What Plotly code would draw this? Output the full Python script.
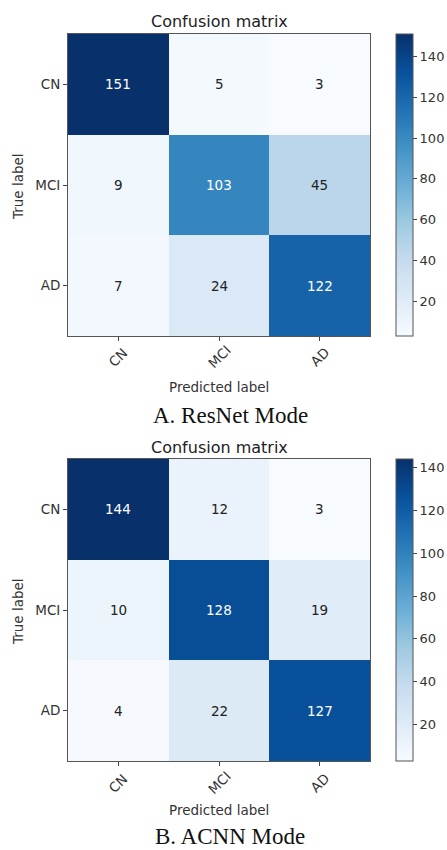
import plotly.graph_objects as go

# ---- data ----
labels = ["CN", "MCI", "AD"]
resnet_cm = [[151, 5, 3],
             [9, 103, 45],
             [7, 24, 122]]
acnn_cm = [[144, 12, 3],
           [10, 128, 19],
           [4, 22, 127]]
titles = ["Confusion matrix", "Confusion matrix"]
captions = ["A. ResNet Mode", "B. ACNN Mode"]

W, H = 447, 850
blues = [[0.0, "rgb(247,251,255)"], [0.125, "rgb(222,235,247)"], [0.25, "rgb(198,219,239)"],
         [0.375, "rgb(158,202,225)"], [0.5, "rgb(107,174,214)"], [0.625, "rgb(66,146,198)"],
         [0.75, "rgb(33,113,181)"], [0.875, "rgb(8,81,156)"], [1.0, "rgb(8,48,107)"]]

FONT = "DejaVu Sans"
TXT = "#333333"

def py(px):
    return 1 - px / H

def px_x(px):
    return px / W

fig = go.Figure()

panels = [
    dict(cm=resnet_cm, top=34, bot=336, title_y=22, xt_y=357, xl_y=387, cap_y=415,
         title=titles[0], cap=captions[0]),
    dict(cm=acnn_cm, top=459, bot=761, title_y=447, xt_y=783, xl_y=810, cap_y=836,
         title=titles[1], cap=captions[1]),
]

left, right = 68, 370
annotations = []
for i, p in enumerate(panels):
    n = i + 1
    xa = "x" if n == 1 else "x%d" % n
    ya = "y" if n == 1 else "y%d" % n
    ca = "coloraxis" if n == 1 else "coloraxis%d" % n
    cm = p["cm"]
    flat = [v for row in cm for v in row]
    zmin, zmax = min(flat), max(flat)
    fig.add_trace(go.Heatmap(z=cm, x=labels, y=labels, coloraxis=ca,
                             xaxis=xa, yaxis=ya, hoverinfo="skip", xgap=0, ygap=0))
    cb_center = (p["top"] + p["bot"]) / 2
    fig.update_layout(**{
        ca: dict(colorscale=blues, cmin=zmin, cmax=zmax,
                 colorbar=dict(x=px_x(396), xanchor="left", xpad=0,
                               y=py(cb_center), yanchor="middle", ypad=0,
                               len=p["bot"] - p["top"], lenmode="pixels",
                               thickness=17, thicknessmode="pixels",
                               outlinewidth=1, outlinecolor="#555555",
                               tick0=0, dtick=20, ticks="outside", ticklen=4,
                               tickcolor="#444444", tickwidth=1,
                               tickfont=dict(family=FONT, size=13, color=TXT))),
        ("xaxis" if n == 1 else "xaxis%d" % n): dict(
            domain=[px_x(left), px_x(right)], anchor=ya, showticklabels=False,
            ticks="outside", ticklen=4, tickcolor="#444444", showline=True, mirror=True,
            linecolor="#555555", linewidth=1, showgrid=False, zeroline=False,
            range=[-0.5, 2.5]),
        ("yaxis" if n == 1 else "yaxis%d" % n): dict(
            domain=[py(p["bot"]), py(p["top"])], anchor=xa, autorange="reversed",
            ticks="outside", ticklen=4, tickcolor="#444444", showline=True, mirror=True,
            linecolor="#555555", linewidth=1, showgrid=False, zeroline=False,
            tickfont=dict(family=FONT, size=13.5, color=TXT)),
    })
    thresh = zmax / 2
    for r, row in enumerate(cm):
        for c, v in enumerate(row):
            annotations.append(dict(x=labels[c], y=labels[r], xref=xa, yref=ya,
                                    text=str(v), showarrow=False,
                                    font=dict(family=FONT, size=13.5,
                                              color="white" if v > thresh else "#222222")))
    for c, lab in enumerate(labels):
        annotations.append(dict(x=labels[c], y=py(p["xt_y"]), xref=xa, yref="paper",
                                text=lab, showarrow=False, textangle=-45,
                                xanchor="center", yanchor="middle",
                                font=dict(family=FONT, size=13.5, color=TXT)))
    annotations.append(dict(x=px_x((left + right) / 2), y=py(p["title_y"]), xref="paper",
                            yref="paper", text=p["title"], showarrow=False,
                            xanchor="center", yanchor="middle",
                            font=dict(family=FONT, size=16, color="#222222")))
    annotations.append(dict(x=px_x((left + right) / 2), y=py(p["xl_y"]), xref="paper",
                            yref="paper", text="Predicted label", showarrow=False,
                            xanchor="center", yanchor="middle",
                            font=dict(family=FONT, size=13.5, color=TXT)))
    annotations.append(dict(x=px_x(18), y=py(cb_center + 2), xref="paper", yref="paper",
                            text="True label", showarrow=False, textangle=-90,
                            xanchor="center", yanchor="middle",
                            font=dict(family=FONT, size=13.5, color=TXT)))
    annotations.append(dict(x=px_x(230), y=py(p["cap_y"]), xref="paper", yref="paper",
                            text=p["cap"], showarrow=False, xanchor="center",
                            yanchor="middle", borderpad=0,
                            font=dict(family="Liberation Serif", size=23, color="#111111")))

fig.update_layout(width=W, height=H, margin=dict(l=0, r=0, t=0, b=0),
                  paper_bgcolor="white", plot_bgcolor="white",
                  annotations=annotations, showlegend=False)

fig.write_html("out.html", config={"displayModeBar": False},
               post_script="document.body.style.margin='0';document.body.style.overflow='hidden';")
